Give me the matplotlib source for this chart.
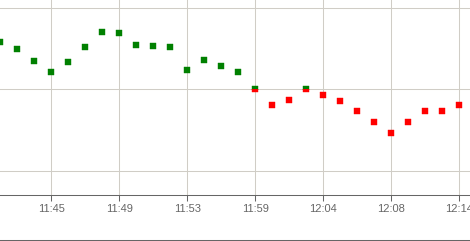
import matplotlib
matplotlib.use("Agg")
import matplotlib.pyplot as plt
from matplotlib.patches import Rectangle
from matplotlib.lines import Line2D

times = ["11:42", "11:43", "11:44", "11:45", "11:46", "11:47", "11:48", "11:49",
         "11:50", "11:51", "11:52", "11:53", "11:55", "11:56", "11:58", "11:59",
         "12:00", "12:02", "12:03", "12:04", "12:05", "12:06", "12:07", "12:08",
         "12:10", "12:11", "12:13", "12:14"]
values = [99.579, 99.493, 99.346, 99.211, 99.334, 99.518, 99.702, 99.690,
          99.542, 99.530, 99.518, 99.236, 99.358, 99.285, 99.211, 99.000,
          98.806, 98.867, 99.000, 98.929, 98.855, 98.733, 98.598, 98.463,
          98.598, 98.733, 98.733, 98.806]
threshold = 99.0
label_every = 4
label_start = 3

fig = plt.figure(figsize=(4.70, 2.41), dpi=100)
ax = fig.add_axes([0, 1 - 195.3 / 241, 1, 195.3 / 241])

x = list(range(len(values)))
x_lo, x_hi = -0.018, 27.63
y_lo, y_hi = 97.702, 100.098
ax.set_xlim(x_lo, x_hi)
ax.set_ylim(y_lo, y_hi)

grid_col = "#d0cdc6"
ticks = list(range(label_start, len(times), label_every))
for t in ticks:
    ax.axvline(t, color=grid_col, lw=0.75, zorder=0)
for g in [98, 99, 100]:
    ax.axhline(g, color=grid_col, lw=0.75, zorder=0)

# green above threshold, red below (each marker clipped at the threshold)
above = Rectangle((x_lo - 1, threshold), x_hi - x_lo + 2, y_hi - threshold + 1,
                  transform=ax.transData, fill=False)
below = Rectangle((x_lo - 1, y_lo - 1), x_hi - x_lo + 2, threshold - y_lo + 1,
                  transform=ax.transData, fill=False)
g_line, = ax.plot(x, values, ls="none", marker="s", ms=5, mfc="#008000",
                  mec="#008000", mew=0.3, zorder=3)
r_line, = ax.plot(x, values, ls="none", marker="s", ms=5, mfc="#ff0000",
                  mec="#ff0000", mew=0.3, zorder=3)
g_line.set_clip_path(above)
r_line.set_clip_path(below)

ax.set_xticks(ticks)
ax.set_xticklabels([times[t] for t in ticks], fontfamily="Liberation Sans",
                   fontsize=8, color="#666666")
ax.set_yticks([])
ax.tick_params(axis="x", length=4, width=0.75, color="#666666", pad=2)
for s in ["top", "left", "right"]:
    ax.spines[s].set_visible(False)
ax.spines["bottom"].set_color("#666666")
ax.spines["bottom"].set_linewidth(0.75)

fig.add_artist(Line2D([0, 1], [1 - 239.5 / 241] * 2, color="#666666", lw=0.75,
                      transform=fig.transFigure))

fig.savefig("out.png", dpi=100)
